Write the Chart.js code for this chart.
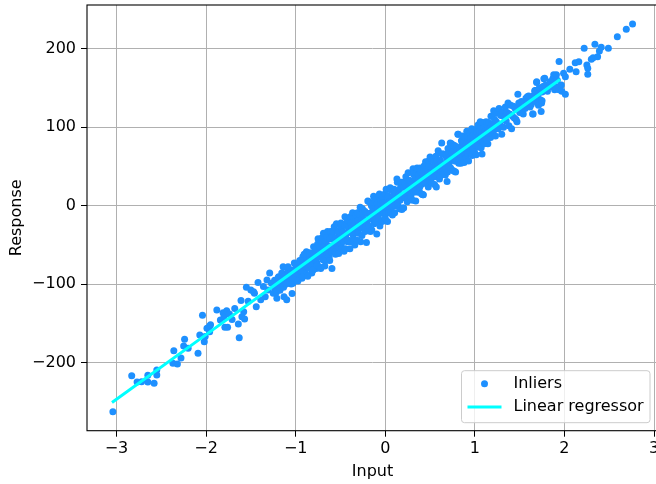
<!DOCTYPE html>
<html>
<head>
<meta charset="utf-8">
<title>Inliers and linear regressor</title>
<script src="https://cdn.jsdelivr.net/npm/chart.js@4.4.1/dist/chart.umd.min.js"></script>
<style>
  html, body { margin: 0; padding: 0; background: #fff; overflow: hidden; }
  #graph-container { width: 656px; height: 484px; overflow: hidden; }
</style>
</head>
<body>
<div id="graph-container"><canvas id="graph" width="662" height="484"></canvas></div>
<script>
// sparse tail on the left
let lowX = [
  -3.04, -2.83, -2.77, -2.72, -2.65, -2.65, -2.58, -2.55, -2.55, -2.36,
  -2.37, -2.32, -2.28, -2.25, -2.24, -2.20, -2.09, -2.07, -2.04, -2.02,
  -2.01, -1.99, -1.96, -1.96, -1.95, -1.88, -1.84, -1.81, -1.80, -1.77,
  -1.74, -1.79, -1.76, -1.71, -1.68, -1.64, -1.63, -1.61, -1.60, -1.58,
  -1.57, -1.55, -1.53, -1.50, -1.47, -1.46, -1.42, -1.44, -1.39, -1.36,
  -1.34, -1.32, -1.31, -1.29, -1.27, -1.25, -1.21, -1.19, -1.18, -1.14,
  -1.13, -1.10, -1.08, -1.06, -1.04, -1.03, -1.01, -0.97, -0.95, -0.93,
  -0.92, -0.90, -0.88, -0.86, -0.82, -0.80, -0.785, -0.77
];
let lowY = [
  -262.8, -216.8, -224.9, -224.5, -216.3, -224.9, -226.5, -209.6, -216, -184.9,
  -201, -201.9, -194.3, -179, -170.4, -181.9, -188.3, -165, -139.8, -173.5,
  -167, -156.4, -153.4, -160.7, -152, -133, -145.8, -136.5, -141.6, -134,
  -138, -155, -155, -145, -131, -151, -168.4, -121, -141.6, -135.2,
  -144.5, -104, -122, -107.5, -109.7, -111.8, -98, -128.8, -120, -103,
  -116, -94.8, -107.5, -86, -99, -111.8, -118, -90.6, -103, -78,
  -116, -120, -94.8, -86, -112, -99, -90.6, -84, -75.6, -92.6,
  -65, -82, -58.7, -73.5, -86, -52.3, -69, -80
];

// left shoulder of the band
let shoulderX = [
  -1.24, -1.22, -1.20, -1.17, -1.15, -1.12, -1.11, -1.09, -1.07, -1.05,
  -1.04, -1.02, -1.00, -0.99, -0.98, -0.96, -0.94, -0.93, -0.91, -0.90,
  -0.89, -0.87, -0.86, -0.84, -0.83, -0.81, -0.79, -0.78,
  -1.235, -1.215, -1.195, -1.175, -1.155, -1.135, -1.125, -1.105, -1.085, -1.065,
  -1.055, -1.035, -1.015, -0.995, -0.975, -0.955, -0.945, -0.925, -0.905, -0.885,
  -0.865, -0.845, -0.825, -0.805, -0.785
];
let shoulderY = [
  -104, -97, -101, -94, -99, -88, -95, -84, -91, -100,
  -82, -87, -80, -93, -76, -88, -72, -81, -77, -68,
  -86, -70, -79, -66, -74, -61, -72, -58,
  -95, -110, -92, -108, -86, -104, -90, -100, -78, -97,
  -84, -93, -73, -86, -96, -70, -84, -91, -62, -75,
  -90, -60, -77, -82, -63
];

// dense core around zero
let coreX = [
  -0.77, -0.765, -0.76, -0.755, -0.75, -0.745, -0.74, -0.735, -0.73, -0.725, -0.72, -0.715, -0.71, -0.705, -0.70, -0.695, -0.69, -0.685, -0.68, -0.675,
  -0.67, -0.665, -0.66, -0.655, -0.65, -0.645, -0.64, -0.635, -0.63, -0.625, -0.62, -0.615, -0.61, -0.605, -0.60, -0.595, -0.59, -0.585, -0.58, -0.575,
  -0.57, -0.565, -0.56, -0.555, -0.55, -0.545, -0.54, -0.535, -0.53, -0.525, -0.52, -0.515, -0.51, -0.505, -0.50, -0.495, -0.49, -0.485, -0.48, -0.475,
  -0.47, -0.465, -0.46, -0.455, -0.45, -0.445, -0.44, -0.435, -0.43, -0.425, -0.42, -0.415, -0.41, -0.405, -0.40, -0.395, -0.39, -0.385, -0.38, -0.375,
  -0.37, -0.365, -0.36, -0.355, -0.35, -0.345, -0.34, -0.335, -0.33, -0.325, -0.32, -0.315, -0.31, -0.305, -0.30, -0.295, -0.29, -0.285, -0.28, -0.275,
  -0.27, -0.265, -0.26, -0.255, -0.25, -0.245, -0.24, -0.235, -0.23, -0.225, -0.22, -0.215, -0.21, -0.205, -0.20, -0.195, -0.19, -0.185, -0.18, -0.175,
  -0.17, -0.165, -0.16, -0.155, -0.15, -0.145, -0.14, -0.135, -0.13, -0.125, -0.12, -0.115, -0.11, -0.105, -0.10, -0.095, -0.09, -0.085, -0.08, -0.075,
  -0.07, -0.065, -0.06, -0.055, -0.05, -0.045, -0.04, -0.035, -0.03, -0.025, -0.02, -0.015, -0.01, -0.005, 0.00, 0.005, 0.01, 0.015, 0.02, 0.025,
  0.03, 0.035, 0.04, 0.045, 0.05, 0.055, 0.06, 0.065, 0.07, 0.075, 0.08, 0.085, 0.09, 0.095, 0.10, 0.105, 0.11, 0.115, 0.12, 0.125,
  0.13, 0.135, 0.14, 0.145, 0.15, 0.155, 0.16, 0.165, 0.17, 0.175, 0.18, 0.185, 0.19, 0.195, 0.20, 0.205, 0.21, 0.215, 0.22, 0.225,
  0.23, 0.235, 0.24, 0.245, 0.25, 0.255, 0.26, 0.265, 0.27, 0.275, 0.28, 0.285, 0.29, 0.295, 0.30, 0.305, 0.31, 0.315, 0.32, 0.325,
  0.33, 0.335, 0.34, 0.345, 0.35, 0.355, 0.36, 0.365, 0.37, 0.375, 0.38, 0.385, 0.39, 0.395, 0.40, 0.405, 0.41, 0.415, 0.42, 0.425,
  0.43, 0.435, 0.44, 0.445, 0.45, 0.455, 0.46, 0.465, 0.47, 0.475, 0.48, 0.485, 0.49, 0.495, 0.50, 0.505, 0.51, 0.515, 0.52, 0.525,
  0.53, 0.535, 0.54, 0.545, 0.55, 0.555, 0.56, 0.565, 0.57, 0.575, 0.58, 0.585, 0.59, 0.595, 0.60, 0.605, 0.61, 0.615, 0.62, 0.625,
  0.63, 0.635, 0.64, 0.645, 0.65, 0.655, 0.66, 0.665, 0.67, 0.675, 0.68, 0.685, 0.69, 0.695, 0.70, 0.705, 0.71, 0.715, 0.72, 0.725,
  0.73, 0.735, 0.74, 0.745, 0.75, 0.755, 0.76, 0.765, 0.77, 0.775, 0.78, 0.785, 0.79, 0.795, 0.80, 0.805, 0.81, 0.815, 0.82, 0.825,
  0.83, 0.835, 0.84, 0.845, 0.85
];
let coreY = [
  -55, -72, -76, -49, -42, -60, -65, -78, -57, -52, -80, -62, -46, -41, -65, -69, -35, -52, -57, -77,
  -49, -45, -70, -60, -39, -33, -58, -53, -51, -65, -70, -42, -33, -54, -59, -80, -39, -33, -51, -55,
  -27, -44, -59, -62, -41, -23, -51, -49, -32, -34, -61, -53, -40, -42, -26, -22, -49, -55, -32, -34,
  -40, -45, -58, -25, -14, -55, -41, -35, -25, -19, -46, -44, -29, -27, -34, -55, -14, -22, -46, -34,
  -27, -9, -37, -42, -16, -25, -50, -34, -19, -12, -30, -44, -9, -19, -35, -26, -23, -12, -2, -46,
  -28, -18, -38, -4, -11, -29, -21, -18, -7, -33, -27, -9, -47, -22, -10, 6, -29, -26, 5, -11,
  -17, -33, -9, 0, -31, -16, 3, -4, 12, -23, -17, 8, -7, -15, -20, -36, 3, -3, -11, -16,
  12, 15, -26, -6, 3, 7, -4, -20, 11, 4, -10, -7, 3, 15, -16, -10, 21, 4, -2, -20,
  11, 12, -9, -1, 5, 23, 20, -8, -1, 10, -12, -1, 13, 21, 7, -9, 20, 16, 0, 8,
  34, 30, 6, 0, 16, 14, -4, 7, 23, 30, 14, -5, 30, 24, -3, -3, 24, 30, 10, 10,
  37, 24, 17, 5, 9, 42, 32, 18, 25, 32, 8, 12, 31, 27, 20, 7, 47, 40, 17, 21,
  32, 35, 6, 27, 42, 48, 29, 17, 39, 34, 18, 24, 48, 44, 27, 15, 36, 41, 14, 14,
  47, 51, 29, 33, 56, 46, 35, 28, 44, 41, 24, 57, 50, 34, 62, 61, 31, 29, 44, 49,
  37, 41, 59, 56, 27, 37, 52, 63, 24, 43, 58, 51, 70, 68, 46, 34, 38, 58, 54, 44,
  80, 66, 44, 51, 66, 41, 53, 65, 39, 50, 64, 61, 31, 43, 73, 67, 53, 49, 62, 80,
  48, 60, 79, 68, 59, 45, 70, 77, 44, 57, 76, 43, 57, 75, 70, 63, 91, 91, 54, 57,
  70, 74, 65, 54, 83
];

// right side, thinning out towards the top
let highX = [
  0.855, 0.86, 0.865, 0.87, 0.875, 0.88, 0.885, 0.89, 0.895, 0.90,
  0.905, 0.91, 0.915, 0.92, 0.925, 0.93, 0.935, 0.94, 0.945, 0.95,
  0.955, 0.96, 0.965, 0.97, 0.975, 0.98, 0.985, 0.99, 0.995, 1.00,
  1.005, 1.01, 1.015, 1.02, 1.03, 1.035, 1.04, 1.045, 1.05, 1.055,
  1.065, 1.07, 1.075, 1.085, 1.09, 1.095, 1.10, 1.105, 1.115, 1.12,
  1.125, 1.135, 1.14, 1.145, 1.155, 1.16, 1.165, 1.175, 1.18, 1.185,
  1.195, 1.20, 1.06, 1.08, 1.13, 1.17, 1.21, 1.22,
  1.21, 1.22, 1.23, 1.24, 1.25, 1.26, 1.27, 1.28, 1.29, 1.30,
  1.31, 1.32, 1.33, 1.34, 1.35, 1.36, 1.37, 1.38, 1.39, 1.40,
  1.41, 1.42, 1.43, 1.44, 1.45, 1.46, 1.47, 1.48, 1.485, 1.49,
  1.50, 1.52, 1.53, 1.54, 1.56, 1.57, 1.58, 1.585, 1.60, 1.615,
  1.62, 1.63, 1.645, 1.65, 1.65, 1.66, 1.67, 1.67, 1.68, 1.68,
  1.69, 1.69, 1.70, 1.71, 1.71, 1.72, 1.73, 1.74, 1.745, 1.75,
  1.75, 1.76, 1.77, 1.78, 1.79, 1.81, 1.83, 1.84, 1.86, 1.87,
  1.88, 1.89, 1.905, 1.91, 1.92, 1.94, 1.94, 1.95, 1.965, 1.97,
  1.99, 2.01, 2.01, 2.06, 2.12, 2.13, 2.16, 2.22, 2.25, 2.26,
  2.26, 2.30, 2.32, 2.34, 2.37, 2.39, 2.41, 2.49, 2.59, 2.69, 2.76
];
let highY = [
  77, 59, 89, 69, 81, 55, 75, 67, 87, 73,
  61, 95, 81, 67, 88, 57, 80, 73, 93, 68,
  86, 77, 98, 64, 82, 90, 73, 86, 69, 97,
  79, 90, 65, 94, 79, 103, 88, 75, 95, 85,
  100, 74, 94, 83, 106, 88, 100, 79, 95, 84,
  107, 93, 101, 79, 106, 91, 98, 87, 114, 103,
  92, 100, 107, 66, 84, 94, 121, 118,
  96, 110, 89, 107, 118, 98, 124, 104, 115, 91,
  119, 100, 113, 126, 108, 119, 131, 102, 117, 128,
  98, 114, 127, 112, 124, 110, 107, 142, 124, 131,
  119, 133, 125, 117, 124, 137, 131, 139, 140, 126,
  135, 129, 117, 117, 135, 141, 147, 146, 147, 133,
  157, 158, 138, 143, 128, 150, 135, 120, 131, 145,
  134, 152, 162, 162.5, 154, 146, 151, 158, 155, 162,
  167, 148, 151, 167, 160, 184, 148, 152, 154, 146,
  169, 164.5, 142, 174, 182.4, 170.9, 183.7, 200.8, 179.5, 175.2,
  167.6, 186.7, 188.8, 205.9, 190, 197.3, 202, 200.8, 215.6, 225, 231.8
];

// fitted line
let regressorX = [-3.05, -2.05, -1.05, -0.05, 0.95, 1.95];
let regressorY = [-251.0, -168.6, -86.2, -3.8, 78.6, 161.0];

let xTicks = [-3, -2, -1, 0, 1, 2, 3];
let yTicks = [-200, -100, 0, 100, 200];

let dotColor = '#1e90ff';
let lineColor = '#00ffff';

function toPoints(xs, ys) {
  return xs.map((x, i) => ({ x: x, y: ys[i] }));
}

function minusLabel(value) {
  return value < 0 ? '\u2212' + Math.abs(value) : String(value);
}

let inliers = [].concat(
  toPoints(lowX, lowY),
  toPoints(shoulderX, shoulderY),
  toPoints(coreX, coreY),
  toPoints(highX, highY)
);

// axes frame + legend box in the lower right corner
let frameAndLegend = {
  id: 'frameAndLegend',
  afterDraw(chart) {
    let ctx = chart.ctx;
    let a = chart.chartArea;
    ctx.save();
    ctx.strokeStyle = '#000';
    ctx.lineWidth = 1.1;
    ctx.strokeRect(a.left, a.top, a.right - a.left, a.bottom - a.top);

    let right = a.right - 8;
    let bottom = a.bottom - 8;
    let left = 461.5;
    let top = bottom - 52;
    let r = 3;
    ctx.beginPath();
    ctx.moveTo(left + r, top);
    ctx.arcTo(right, top, right, bottom, r);
    ctx.arcTo(right, bottom, left, bottom, r);
    ctx.arcTo(left, bottom, left, top, r);
    ctx.arcTo(left, top, right, top, r);
    ctx.closePath();
    ctx.fillStyle = 'rgba(255,255,255,0.8)';
    ctx.fill();
    ctx.strokeStyle = '#cccccc';
    ctx.lineWidth = 1;
    ctx.stroke();

    let row1 = top + 13;
    let row2 = top + 36.3;
    ctx.fillStyle = dotColor;
    ctx.beginPath();
    ctx.arc(left + 23, row1, 3.5, 0, Math.PI * 2);
    ctx.fill();

    ctx.strokeStyle = lineColor;
    ctx.lineWidth = 3;
    ctx.beginPath();
    ctx.moveTo(left + 6, row2);
    ctx.lineTo(left + 40, row2);
    ctx.stroke();

    ctx.fillStyle = '#000';
    ctx.font = "16px 'DejaVu Sans'";
    ctx.textBaseline = 'middle';
    ctx.textAlign = 'left';
    ctx.fillText('Inliers', left + 52, row1);
    ctx.fillText('Linear regressor', left + 52, row2);
    ctx.restore();
  }
};

Chart.defaults.font.family = "'DejaVu Sans', sans-serif";
Chart.defaults.font.size = 16;
Chart.defaults.color = '#000';

let canvas = document.getElementById('graph');
let graph = new Chart(canvas.getContext('2d'), {
  type: 'scatter',
  data: {
    datasets: [
      {
        label: 'Linear regressor',
        data: toPoints(regressorX, regressorY),
        showLine: true,
        borderColor: lineColor,
        borderWidth: 3,
        pointRadius: 0,
        tension: 0,
        order: 1
      },
      {
        label: 'Inliers',
        data: inliers,
        backgroundColor: dotColor,
        pointRadius: 3.5,
        pointBorderWidth: 0,
        pointHoverRadius: 0,
        order: 2
      }
    ]
  },
  options: {
    responsive: false,
    animation: false,
    events: [],
    layout: { padding: { top: 5, right: 4, left: 0, bottom: 0 } },
    plugins: {
      legend: { display: false },
      tooltip: { enabled: false }
    },
    scales: {
      x: {
        type: 'linear',
        min: -3.329,
        max: 3.044,
        afterBuildTicks: (scale) => { scale.ticks = xTicks.map(v => ({ value: v })); },
        afterFit: (scale) => {
          scale.height = 53.3;
          scale.paddingLeft = 0;
          scale.paddingRight = 0;
        },
        grid: { color: '#b0b0b0', lineWidth: 1, tickColor: '#000', tickLength: 6 },
        border: { display: false },
        ticks: { callback: minusLabel, padding: 3, maxRotation: 0, autoSkip: false },
        title: { display: true, text: 'Input', padding: { top: 0, bottom: 3 } }
      },
      y: {
        type: 'linear',
        min: -287,
        max: 256,
        afterBuildTicks: (scale) => { scale.ticks = yTicks.map(v => ({ value: v })); },
        afterFit: (scale) => {
          scale.width = 87;
          scale.paddingTop = 0;
          scale.paddingBottom = 0;
        },
        grid: { color: '#b0b0b0', lineWidth: 1, tickColor: '#000', tickLength: 6 },
        border: { display: false },
        ticks: { callback: minusLabel, padding: 5, autoSkip: false },
        title: { display: true, text: 'Response', padding: { top: 7, bottom: 0 } }
      }
    }
  },
  plugins: [frameAndLegend]
});
</script>
</body>
</html>
